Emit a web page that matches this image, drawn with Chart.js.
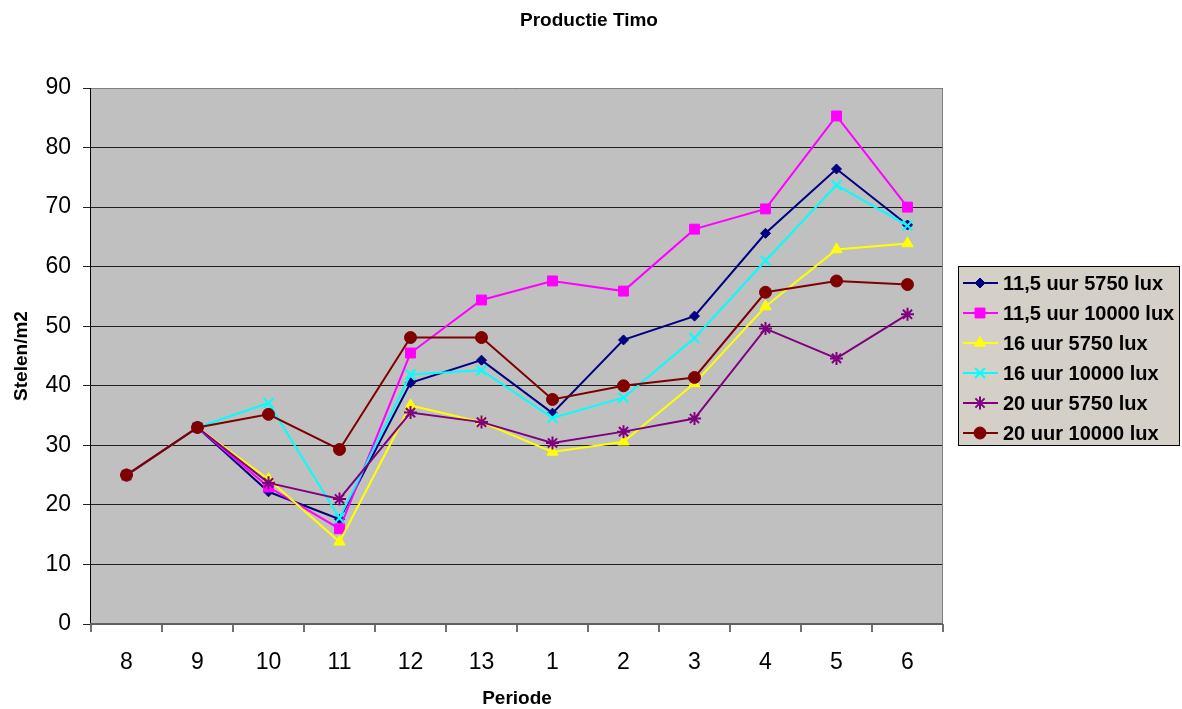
<!DOCTYPE html>
<html>
<head>
<meta charset="utf-8">
<script src="https://cdn.jsdelivr.net/npm/chart.js@4/dist/chart.umd.min.js"></script>
<style>
  html, body { margin: 0; padding: 0; background: #ffffff; }
  #wrap { width: 1182px; height: 709px; }
</style>
</head>
<body>
<div id="wrap"><canvas id="c" width="1182" height="709"></canvas></div>
<script>
// Periods on the x axis
const categories = ['8', '9', '10', '11', '12', '13', '1', '2', '3', '4', '5', '6'];

// Production (stelen/m2) per lighting regime
const s115_5750  = [25, 33, 22.2, 17.6, 40.5, 44.3, 35.4, 47.7, 51.7, 65.6, 76.4, 67.0];
const s115_10000 = [25, 33, 23.0, 16.0, 45.5, 54.4, 57.6, 55.9, 66.3, 69.7, 85.3, 70.0];
const s16_5750   = [25, 33, 24.3, 13.8, 36.7, 33.9, 28.9, 30.6, 40.4, 53.3, 62.9, 63.9];
const s16_10000  = [25, 33, 37.1, 17.8, 41.9, 42.6, 34.6, 38.0, 48.0, 61.0, 73.7, 66.9];
const s20_5750   = [25, 33, 23.7, 21.0, 35.5, 33.9, 30.4, 32.3, 34.5, 49.6, 44.6, 52.0];
const s20_10000  = [25, 33, 35.2, 29.3, 48.1, 48.1, 37.7, 40.0, 41.4, 55.7, 57.6, 57.0];

const seriesLabels = ['11,5 uur 5750 lux', '11,5 uur 10000 lux', '16 uur 5750 lux',
                      '16 uur 10000 lux', '20 uur 5750 lux', '20 uur 10000 lux'];
const yTicks = [0, 10, 20, 30, 40, 50, 60, 70, 80, 90];

const FONT = '"Liberation Sans", Arial, sans-serif';

const styles = [
  { color: '#000080', pointStyle: 'rectRot',  radius: 5 },
  { color: '#FF00FF', pointStyle: 'rect',     radius: 7 },
  { color: '#FFFF00', pointStyle: 'triangle', radius: 6.5 },
  { color: '#00FFFF', pointStyle: 'crossRot', radius: 7 },
  { color: '#800080', pointStyle: 'star',     radius: 6.5 },
  { color: '#800000', pointStyle: 'circle',   radius: 6 }
];
const seriesData = [s115_5750, s115_10000, s16_5750, s16_10000, s20_5750, s20_10000];

const datasets = seriesData.map((d, i) => ({
  label: seriesLabels[i],
  data: d,
  borderColor: styles[i].color,
  backgroundColor: styles[i].color,
  pointBackgroundColor: styles[i].color,
  pointBorderColor: styles[i].color,
  pointStyle: styles[i].pointStyle,
  pointRadius: styles[i].radius,
  pointBorderWidth: (styles[i].pointStyle === 'crossRot' || styles[i].pointStyle === 'star') ? 2 : 1,
  borderWidth: 2,
  tension: 0,
  fill: false,
  order: seriesData.length - 1 - i   // later series sit on top
}));

// Plot background, frame, titles and the boxed legend
const decor = {
  id: 'decor',
  beforeDraw(chart) {
    const { ctx, chartArea: a } = chart;
    ctx.save();
    ctx.fillStyle = '#C0C0C0';
    ctx.fillRect(a.left, a.top, a.right - a.left, a.bottom - a.top);
    ctx.restore();
  },
  afterDraw(chart) {
    const { ctx, chartArea: a } = chart;
    ctx.save();
    // frame: grey top/right, dark axes
    ctx.lineWidth = 1;
    ctx.strokeStyle = '#808080';
    ctx.beginPath();
    ctx.moveTo(a.left, a.top + 0.5); ctx.lineTo(a.right - 0.5, a.top + 0.5);
    ctx.lineTo(a.right - 0.5, a.bottom);
    ctx.stroke();
    ctx.strokeStyle = '#000000';
    ctx.beginPath();
    ctx.moveTo(a.left - 0.5, a.top); ctx.lineTo(a.left - 0.5, a.bottom);
    ctx.stroke();
    ctx.strokeStyle = '#606060';
    ctx.lineWidth = 2;
    ctx.beginPath();
    ctx.moveTo(a.left - 1, a.bottom); ctx.lineTo(a.right, a.bottom);
    ctx.stroke();

    // titles
    ctx.fillStyle = '#000000';
    ctx.textAlign = 'center';
    ctx.textBaseline = 'middle';
    ctx.font = 'bold 19px ' + FONT;
    ctx.fillText('Productie Timo', 589, 21);
    ctx.fillText('Periode', 517, 699);
    ctx.save();
    ctx.translate(22, 356);
    ctx.rotate(-Math.PI / 2);
    ctx.fillText('Stelen/m2', 0, 0);
    ctx.restore();

    // legend box
    const bx = 958, by = 266, bw = 222, bh = 180;
    ctx.fillStyle = '#D4D0C8';
    ctx.fillRect(bx, by, bw, bh);
    ctx.strokeStyle = '#000000';
    ctx.lineWidth = 1;
    ctx.strokeRect(bx + 0.5, by + 0.5, bw - 1, bh - 1);
    ctx.font = 'bold 20px ' + FONT;
    ctx.textAlign = 'left';
    ctx.textBaseline = 'middle';
    chart.data.datasets.forEach((ds, i) => {
      const y = 283 + i * 30;
      ctx.strokeStyle = ds.borderColor;
      ctx.lineWidth = 2;
      ctx.beginPath();
      ctx.moveTo(963, y); ctx.lineTo(998, y);
      ctx.stroke();
      ctx.fillStyle = ds.borderColor;
      ctx.strokeStyle = ds.borderColor;
      ctx.lineWidth = ds.pointBorderWidth;
      Chart.helpers.drawPoint(ctx, { pointStyle: ds.pointStyle, radius: ds.pointRadius, rotation: 0, borderWidth: ds.pointBorderWidth }, 980, y);
      ctx.fillStyle = '#000000';
      ctx.fillText(ds.label, 1003, y + 1);
    });
    ctx.restore();
  }
};

new Chart(document.getElementById('c'), {
  type: 'line',
  data: { labels: categories, datasets },
  options: {
    responsive: false,
    animation: false,
    devicePixelRatio: 1,
    layout: { padding: { top: 88, right: 239, left: 0, bottom: 0 } },
    plugins: { legend: { display: false }, title: { display: false }, tooltip: { enabled: false } },
    scales: {
      x: {
        type: 'category',
        offset: true,
        afterFit(s) { s.height = 85; },
        grid: { offset: true, drawOnChartArea: false, drawTicks: true, tickLength: 8, color: '#707070', lineWidth: 2 },
        border: { display: false },
        ticks: { color: '#000000', font: { family: FONT, size: 23 }, padding: 17, maxRotation: 0 }
      },
      y: {
        min: 0, max: 90,
        afterFit(s) { s.width = 91; },
        afterBuildTicks(s) { s.ticks = yTicks.map(v => ({ value: v })); },
        grid: { color: '#202020', lineWidth: 1, tickLength: 8, drawTicks: true },
        border: { display: false },
        ticks: { color: '#000000', font: { family: FONT, size: 23 }, padding: 12 }
      }
    }
  },
  plugins: [decor]
});
</script>
</body>
</html>
